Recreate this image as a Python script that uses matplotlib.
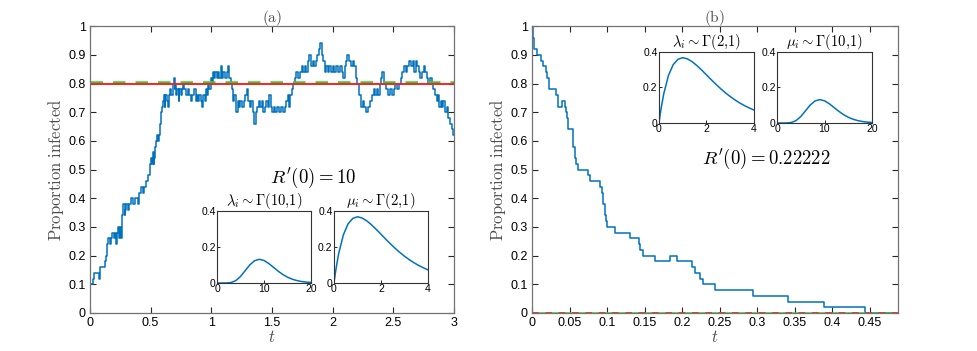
import numpy as np
import matplotlib
matplotlib.use("Agg")
import matplotlib.pyplot as plt

plt.rcParams['font.family'] = ['Liberation Sans', 'DejaVu Sans']
plt.rcParams['mathtext.fontset'] = 'cm'

BLUE = '#0072BD'

# (a) trajectoire, R'(0) = 10
t_a = [0.000, 0.022, 0.035, 0.072, 0.080, 0.126, 0.132, 0.140, 0.152, 0.165, 0.172, 0.185,
       0.195, 0.205, 0.215, 0.222, 0.232, 0.240, 0.246, 0.250, 0.258, 0.262, 0.268, 0.275,
       0.285, 0.292, 0.300, 0.310, 0.318, 0.340, 0.355, 0.372, 0.395, 0.405, 0.418, 0.440,
       0.448, 0.462, 0.475, 0.495, 0.502, 0.510, 0.518, 0.525, 0.530, 0.540, 0.548, 0.555,
       0.562, 0.568, 0.575, 0.585, 0.592, 0.600, 0.608, 0.615, 0.622, 0.632, 0.640, 0.648,
       0.660, 0.672, 0.685, 0.692, 0.698, 0.705, 0.712, 0.720, 0.730, 0.738, 0.748, 0.758,
       0.770, 0.778, 0.795, 0.808, 0.820, 0.835, 0.845, 0.858, 0.872, 0.882, 0.892, 0.900,
       0.912, 0.925, 0.935, 0.945, 0.955, 0.965, 0.975, 0.985, 0.995, 1.005, 1.012, 1.025,
       1.035, 1.045, 1.055, 1.068, 1.078, 1.088, 1.100, 1.115, 1.128, 1.138, 1.148, 1.160,
       1.168, 1.178, 1.190, 1.200, 1.208, 1.218, 1.228, 1.240, 1.255, 1.268, 1.282, 1.295,
       1.305, 1.318, 1.330, 1.345, 1.355, 1.368, 1.380, 1.392, 1.405, 1.418, 1.430, 1.442,
       1.455, 1.468, 1.478, 1.490, 1.502, 1.515, 1.528, 1.545, 1.560, 1.575, 1.590, 1.605,
       1.620, 1.630, 1.640, 1.652, 1.665, 1.678, 1.690, 1.702, 1.715, 1.728, 1.745, 1.760,
       1.770, 1.785, 1.798, 1.810, 1.822, 1.835, 1.850, 1.862, 1.875, 1.888, 1.900, 1.912,
       1.922, 1.935, 1.950, 1.962, 1.975, 1.988, 2.000, 2.015, 2.030, 2.045, 2.060, 2.075,
       2.090, 2.100, 2.112, 2.122, 2.135, 2.150, 2.165, 2.178, 2.192, 2.205, 2.218, 2.232,
       2.250, 2.262, 2.275, 2.292, 2.305, 2.325, 2.340, 2.352, 2.365, 2.378, 2.390, 2.400,
       2.412, 2.425, 2.440, 2.455, 2.475, 2.490, 2.505, 2.518, 2.535, 2.548, 2.562, 2.575,
       2.590, 2.602, 2.618, 2.630, 2.645, 2.660, 2.672, 2.685, 2.698, 2.712, 2.725, 2.738,
       2.752, 2.765, 2.778, 2.790, 2.805, 2.818, 2.830, 2.845, 2.860, 2.872, 2.882, 2.895,
       2.905, 2.915, 2.928, 2.942, 2.955, 2.970, 2.985, 2.995, 3.000]
y_a = [0.10, 0.12, 0.14, 0.12, 0.16, 0.18, 0.20, 0.24, 0.26, 0.24, 0.26, 0.28,
       0.26, 0.28, 0.24, 0.28, 0.30, 0.26, 0.28, 0.30, 0.26, 0.30, 0.34, 0.38,
       0.34, 0.36, 0.38, 0.36, 0.38, 0.40, 0.38, 0.40, 0.38, 0.42, 0.44, 0.42,
       0.44, 0.46, 0.48, 0.52, 0.54, 0.52, 0.56, 0.52, 0.54, 0.58, 0.60, 0.62,
       0.60, 0.62, 0.66, 0.70, 0.72, 0.74, 0.76, 0.72, 0.76, 0.74, 0.72, 0.76,
       0.78, 0.76, 0.80, 0.82, 0.78, 0.80, 0.76, 0.78, 0.74, 0.78, 0.76, 0.78,
       0.80, 0.78, 0.76, 0.78, 0.76, 0.74, 0.76, 0.78, 0.74, 0.76, 0.74, 0.76,
       0.74, 0.72, 0.76, 0.74, 0.78, 0.76, 0.80, 0.78, 0.82, 0.80, 0.84, 0.82,
       0.84, 0.82, 0.84, 0.82, 0.86, 0.82, 0.84, 0.82, 0.84, 0.86, 0.82, 0.80,
       0.78, 0.74, 0.76, 0.72, 0.70, 0.74, 0.72, 0.74, 0.72, 0.74, 0.76, 0.78,
       0.74, 0.72, 0.74, 0.70, 0.66, 0.70, 0.72, 0.74, 0.72, 0.74, 0.70, 0.72,
       0.74, 0.72, 0.76, 0.72, 0.70, 0.72, 0.70, 0.72, 0.70, 0.72, 0.70, 0.72,
       0.74, 0.76, 0.72, 0.76, 0.78, 0.80, 0.82, 0.84, 0.82, 0.84, 0.86, 0.84,
       0.86, 0.84, 0.88, 0.90, 0.86, 0.88, 0.86, 0.88, 0.90, 0.92, 0.94, 0.90,
       0.88, 0.84, 0.86, 0.84, 0.86, 0.84, 0.86, 0.84, 0.86, 0.84, 0.86, 0.84,
       0.82, 0.86, 0.88, 0.90, 0.88, 0.86, 0.88, 0.86, 0.82, 0.80, 0.76, 0.72,
       0.74, 0.72, 0.70, 0.72, 0.74, 0.76, 0.78, 0.76, 0.78, 0.76, 0.80, 0.82,
       0.84, 0.80, 0.78, 0.76, 0.78, 0.76, 0.78, 0.80, 0.78, 0.80, 0.82, 0.84,
       0.86, 0.84, 0.86, 0.88, 0.86, 0.88, 0.84, 0.88, 0.86, 0.84, 0.82, 0.84,
       0.86, 0.84, 0.82, 0.80, 0.82, 0.80, 0.78, 0.76, 0.74, 0.76, 0.72, 0.74,
       0.72, 0.74, 0.70, 0.72, 0.68, 0.66, 0.64, 0.62, 0.62]

# (b) trajectoire, R'(0) = 0.22222
t_b = [0.000, 0.0015, 0.003, 0.006, 0.012, 0.014, 0.018, 0.020, 0.023, 0.032, 0.035, 0.040,
       0.044, 0.045, 0.046, 0.048, 0.054, 0.055, 0.057, 0.058, 0.061, 0.074, 0.077, 0.091,
       0.093, 0.095, 0.097, 0.099, 0.100, 0.111, 0.131, 0.142, 0.144, 0.148, 0.164, 0.184,
       0.193, 0.213, 0.217, 0.223, 0.227, 0.244, 0.294, 0.341, 0.389, 0.443, 0.487]
y_b = [1.00, 0.96, 0.92, 0.90, 0.88, 0.86, 0.84, 0.82, 0.78, 0.76, 0.72, 0.74,
       0.72, 0.70, 0.68, 0.64, 0.62, 0.58, 0.54, 0.52, 0.50, 0.48, 0.46, 0.44,
       0.42, 0.38, 0.34, 0.32, 0.30, 0.28, 0.26, 0.24, 0.22, 0.20, 0.18, 0.20,
       0.18, 0.16, 0.14, 0.12, 0.10, 0.08, 0.06, 0.04, 0.02, 0.00, 0.00]

# niveaux d'équilibre (rouge: théorique, vert: moyenne)
eq_red = [0.80, 0.0]
eq_green = [0.805, 0.0]

g2_x = [0, 0.05, 0.1, 0.2, 0.4, 0.6, 0.8, 1.0, 1.2, 1.4, 1.6, 1.8, 2.0,
        2.2, 2.4, 2.6, 2.8, 3.0, 3.2, 3.4, 3.6, 3.8, 4.0]
g2_y = [0, 0.048, 0.090, 0.164, 0.268, 0.329, 0.359, 0.368, 0.361, 0.345, 0.323, 0.298, 0.271,
        0.244, 0.218, 0.193, 0.170, 0.149, 0.130, 0.113, 0.098, 0.085, 0.073]
g10_x = list(range(21))
g10_y = [0, 0.0000, 0.0002, 0.0027, 0.0132, 0.0363, 0.0688, 0.1014, 0.1241, 0.1318, 0.1251,
         0.1085, 0.0874, 0.0661, 0.0473, 0.0324, 0.0213, 0.0135, 0.0083, 0.0050, 0.0029]


def style_main(ax):
    for s in ax.spines.values():
        s.set_color('0.45')
        s.set_linewidth(0.9)
    ax.tick_params(direction='in', length=4, width=0.8, color='0.15',
                   top=True, right=True, labelsize=9, pad=3)
    ax.set_ylim(0, 1)
    ax.set_yticks(np.arange(0, 1.01, 0.1))
    ax.set_yticklabels(['0', '0.1', '0.2', '0.3', '0.4', '0.5', '0.6', '0.7', '0.8', '0.9', '1'])
    ax.set_ylabel(r'$\mathrm{Proportion\ infected}$', fontsize=12, color='0.3', labelpad=2)
    ax.set_xlabel(r'$t$', fontsize=12, color='0.3', labelpad=0)


def inset(rect, x, y, xmax, xticks, title):
    ax = fig.add_axes(rect)
    ax.plot(x, y, color=BLUE, lw=1.1)
    ax.set_xlim(0, xmax)
    ax.set_ylim(0, 0.4)
    ax.set_xticks(xticks)
    ax.set_yticks([0, 0.2, 0.4])
    ax.set_yticklabels(['0', '0.2', '0.4'])
    ax.tick_params(direction='in', length=2, width=0.6, labelsize=7.5, pad=1)
    for s in ax.spines.values():
        s.set_color('0.2')
        s.set_linewidth(0.8)
    ax.set_title(title, fontsize=10.5, pad=2)
    return ax


fig = plt.figure(figsize=(9.78, 3.51), dpi=100)

# (a)
ax1 = fig.add_axes([0.092, 0.1083, 0.372, 0.817])
ax1.step(t_a, y_a, where='post', color=BLUE, lw=1.1)
ax1.axhline(eq_green[0], color='#33CC33', lw=1.8, ls=(0, (5, 4)))
ax1.axhline(eq_red[0], color='#FF2020', lw=1.4)
ax1.set_xlim(0, 3)
ax1.set_xticks(np.arange(0, 3.01, 0.5))
ax1.set_xticklabels(['0', '0.5', '1', '1.5', '2', '2.5', '3'])
style_main(ax1)
ax1.set_title(r'$\mathrm{(a)}$', fontsize=11, pad=3, color='0.3')
fig.text(0.320, 0.493, r"$R'(0) = 10$", fontsize=13.5, ha='center', va='center')

inset([0.2219, 0.1937, 0.0961, 0.2051], g10_x, g10_y, 20, [0, 10, 20],
      r'$\lambda_i \sim \Gamma(10{,}1)$')
inset([0.3415, 0.1937, 0.0961, 0.2051], g2_x, g2_y, 4, [0, 2, 4],
      r'$\mu_i \sim \Gamma(2{,}1)$')

# (b)
ax2 = fig.add_axes([0.544, 0.1083, 0.374, 0.817])
ax2.step(t_b, y_b, where='post', color=BLUE, lw=1.1)
ax2.axhline(eq_green[1], color='#33CC33', lw=1.8)
ax2.axhline(eq_red[1], color='#FF2020', lw=1.2, ls=(0, (4, 4)))
ax2.set_xlim(0, 0.487)
ax2.set_xticks(np.arange(0, 0.451, 0.05))
ax2.set_xticklabels(['0', '0.05', '0.1', '0.15', '0.2', '0.25', '0.3', '0.35', '0.4', '0.45'])
style_main(ax2)
ax2.set_title(r'$\mathrm{(b)}$', fontsize=11, pad=3, color='0.3')
fig.text(0.784, 0.547, r"$R'(0) = 0.22222$", fontsize=13.5, ha='center', va='center')

inset([0.6738, 0.6496, 0.0971, 0.2023], g2_x, g2_y, 4, [0, 2, 4],
      r'$\lambda_i \sim \Gamma(2{,}1)$')
inset([0.7945, 0.6496, 0.0971, 0.2023], g10_x, g10_y, 20, [0, 10, 20],
      r'$\mu_i \sim \Gamma(10{,}1)$')

fig.savefig('out.png', dpi=100)
